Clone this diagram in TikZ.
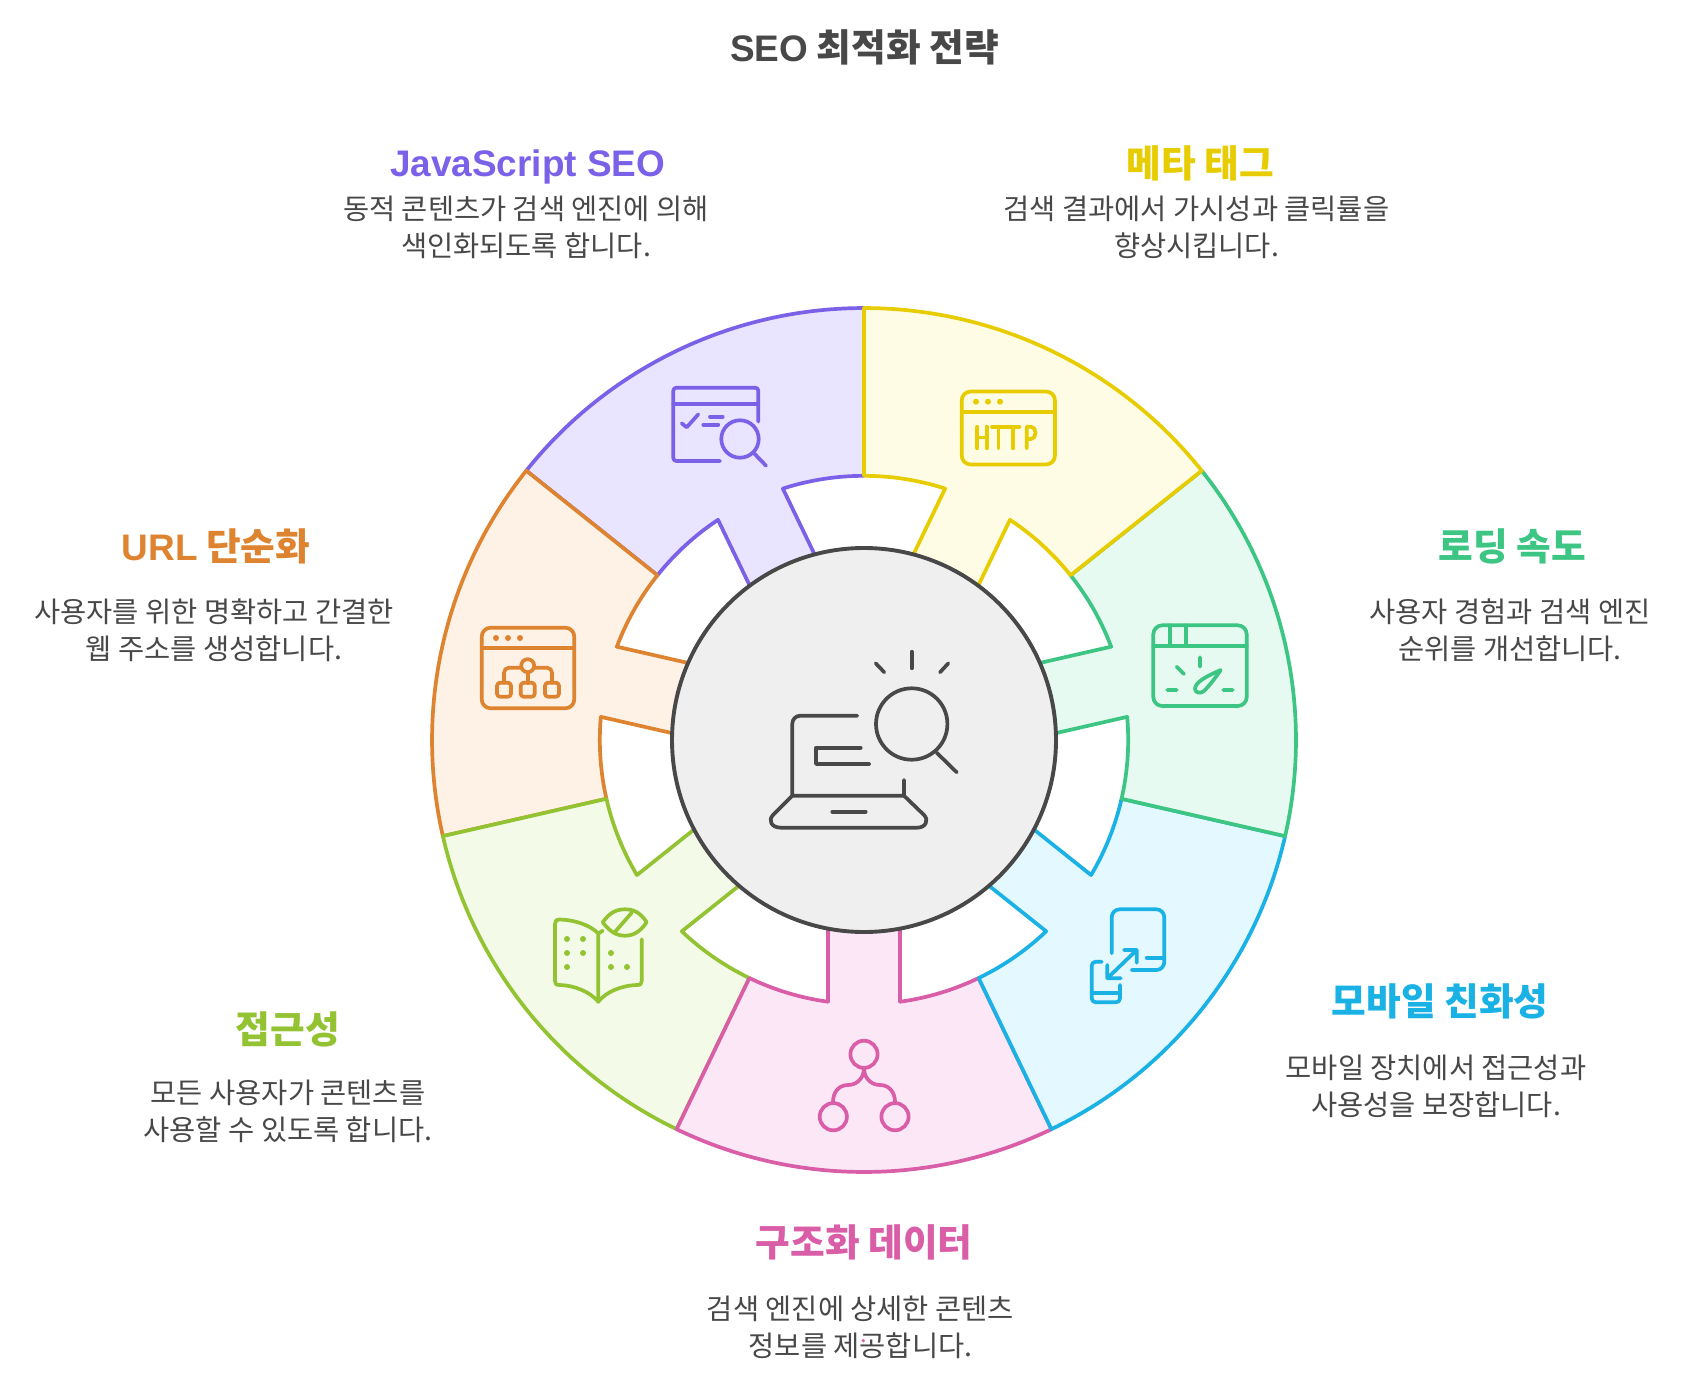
\documentclass[tikz,border=0pt]{standalone}
\usepackage{fontspec}
\setmainfont{Noto Sans CJK KR}
\newfontfamily\latinbold{Liberation Sans}[Scale=0.98]
\definecolor{cink}{HTML}{484848}
\definecolor{chub}{HTML}{EFEFEF}
\definecolor{cpur}{HTML}{7B61E8}\definecolor{fpur}{HTML}{E9E4FF}
\definecolor{cyel}{HTML}{E6CC00}\definecolor{fyel}{HTML}{FFFCE5}
\definecolor{ctea}{HTML}{3CC583}\definecolor{ftea}{HTML}{E7FAF1}
\definecolor{cblu}{HTML}{1AB1E4}\definecolor{fblu}{HTML}{E4F8FF}
\definecolor{cpin}{HTML}{D95DA7}\definecolor{fpin}{HTML}{FCE7F6}
\definecolor{clim}{HTML}{93C332}\definecolor{flim}{HTML}{F3FBE8}
\definecolor{cora}{HTML}{DE8431}\definecolor{fora}{HTML}{FEF1E6}
\newcommand{\wedgeseg}[3]{%
  \begin{scope}[shift={(864,740)},x=1pt,y=1pt,rotate=#3]
    \draw[line width=3.7pt,line join=round,draw=#1,fill=#2]
      (-25.714:432) arc[start angle=-25.714,end angle=25.714,radius=432]
      -- (25.714:264.2) arc[start angle=25.714,end angle=7.83,radius=264.2]
      -- (100,36) -- (100,-36) -- (-7.83:264.2)
      arc[start angle=-7.83,end angle=-25.714,radius=264.2] -- cycle;
  \end{scope}}
\newcommand{\lat}[1]{{\latinbold\bfseries #1}}
\tikzset{
  icon/.style={line width=3.7pt,line cap=round,line join=round,draw=#1},
  headtxt/.style={font=\fontsize{37.7}{44}\bfseries\selectfont,text=#1,inner sep=0pt},
  bodytxt/.style={font=\fontsize{28.45}{37}\selectfont,text=cink,align=center,inner sep=0pt},
}
\begin{document}
\begin{tikzpicture}[x=1pt,y=-1pt]
\useasboundingbox (0,0) rectangle (1692,1388);
\wedgeseg{cpur}{fpur}{115.714}
\wedgeseg{cora}{fora}{167.143}
\wedgeseg{clim}{flim}{218.571}
\wedgeseg{cpin}{fpin}{270}
\wedgeseg{cblu}{fblu}{321.429}
\wedgeseg{ctea}{ftea}{12.857}
\wedgeseg{cyel}{fyel}{64.286}
\node[circle,draw=cink,fill=chub,line width=3.9pt,minimum size=384pt,inner sep=0pt] (hub) at (864,740) {};

% central icon
\draw[icon=cink] (857.3,715.7) -- (800.3,715.7) arc[start angle=-90,end angle=-180,x radius=8,y radius=8] -- (792.3,795.7) -- (904,795.7) -- (904,780);
\draw[icon=cink] (792.3,795.7) -- (773,815) .. controls (768,820) and (771,827.7) .. (781,827.7) -- (917,827.7) .. controls (926,827.7) and (929,820) .. (924,815) -- (904,795.7);
\draw[icon=cink] (832.3,811.7) -- (865.7,811.7);
\draw[icon=cink] (860.7,747.7) -- (816,747.7) -- (816,764) -- (869,764);
\draw[icon=cink] (911.7,724) circle[radius=35.7];
\draw[icon=cink] (936.7,752.7) -- (956.7,772.3);
\draw[icon=cink] (911.7,651.7) -- (911.7,668.3);
\draw[icon=cink] (875.7,663.3) -- (884.3,672.3);
\draw[icon=cink] (948.3,663.3) -- (940,672.3);

% http icon
\draw[icon=cyel,rounded corners=9pt] (961.7,391.5) rectangle (1055,464.5);
\draw[icon=cyel] (961.7,411.7) -- (1055,411.7);
\foreach \xx in {976,988,1000}{\fill[cyel] (\xx,401.7) circle[radius=3];}
\draw[icon=cyel] (977.3,426.7) -- (977.3,448.3) (986.7,426.7) -- (986.7,448.3) (977.3,437.5) -- (986.7,437.5);
\draw[icon=cyel] (992,426.7) -- (1005,426.7) (998.5,426.7) -- (998.5,448.3);
\draw[icon=cyel] (1006.5,426.7) -- (1019.5,426.7) (1013,426.7) -- (1013,448.3);
\draw[icon=cyel] (1026.7,448.3) -- (1026.7,426.7) -- (1031,426.7) .. controls (1037,426.7) and (1037,439) .. (1031,439) -- (1026.7,439);

% purple icon
\draw[icon=cpur,rounded corners=3pt] (758.3,421.7) -- (758.3,387.7) -- (673.3,387.7) -- (673.3,461) -- (720,461);
\draw[icon=cpur] (673.3,404.3) -- (758.3,404.3);
\draw[icon=cpur] (681.7,423.3) -- (686.7,427.3) -- (698.3,414.3);
\draw[icon=cpur] (710,416.7) -- (722.7,416.7) (703.3,424.7) -- (718.3,424.7);
\draw[icon=cpur] (740,439) circle[radius=18.7];
\draw[icon=cpur] (754,453.3) -- (766,465.7);

% orange icon
\draw[icon=cora,rounded corners=9pt] (481.7,627.7) rectangle (574.3,708.3);
\draw[icon=cora] (481.7,647.7) -- (574.3,647.7);
\foreach \xx in {496,508,520}{\fill[cora] (\xx,638) circle[radius=3];}
\draw[icon=cora,rounded corners=5pt] (504,683) -- (504,667.7) -- (552,667.7) -- (552,683);
\draw[icon=cora] (527.7,672) -- (527.7,683);
\draw[icon=cora,fill=fora] (527.7,665.7) circle[radius=6.5];
\foreach \xx in {504,527.7,552}{\draw[icon=cora,rounded corners=3pt] (\xx-7,682.7) rectangle (\xx+7,696.7);}

% teal icon
\draw[icon=ctea,rounded corners=9pt] (1153.3,625.3) rectangle (1246.7,706);
\draw[icon=ctea] (1153.3,646) -- (1246.7,646) (1170,625.3) -- (1170,646) (1185.7,625.3) -- (1185.7,646);
\draw[icon=ctea] (1200,657.3) -- (1200,666.7) (1176.7,666.7) -- (1184,674) (1167.3,690) -- (1176.7,690) (1223.3,690) -- (1232.7,690);
\draw[icon=ctea] (1220.7,670) .. controls (1207,676) and (1195,682) .. (1195,689) .. controls (1195,693) and (1201,694) .. (1204,691) .. controls (1210,685) and (1216,677) .. (1220.7,670) -- cycle;

% blue icon
\draw[icon=cblu,rounded corners=8pt] (1111.7,953.3) -- (1111.7,909.3) -- (1164.3,909.3) -- (1164.3,970) -- (1131.7,970);
\draw[icon=cblu] (1146.7,957.7) -- (1164.3,957.7);
\draw[icon=cblu] (1136.7,950) -- (1107.3,978.3) (1124,950) -- (1136.7,950) -- (1136.7,962.7) (1107.3,965) -- (1107.3,978.3) -- (1120.7,978.3);
\draw[icon=cblu,rounded corners=4pt] (1101.7,961.7) -- (1091.7,961.7) -- (1091.7,1002.3) -- (1120,1002.3) -- (1120,985);
\draw[icon=cblu] (1091.7,993.3) -- (1120,993.3);

% pink icon
\draw[icon=cpin] (864,1054.3) circle[radius=13.6] (833.3,1116.7) circle[radius=13.6] (895,1116.7) circle[radius=13.6];
\draw[icon=cpin] (864,1068) .. controls (864,1078) and (857,1085) .. (848,1085) .. controls (839,1085) and (833,1092) .. (833,1102);
\draw[icon=cpin] (864,1068) .. controls (864,1078) and (871,1085) .. (880,1085) .. controls (889,1085) and (895,1092) .. (895,1102);

% lime icon
\draw[icon=clim] (598.3,933.5) .. controls (590,925) and (575,920) .. (560,919.5) .. controls (556,919.5) and (555,921) .. (555,924) -- (555,981) .. controls (555,984) and (556,985) .. (560,985) .. controls (575,985.5) and (590,992) .. (598.3,1001.7) .. controls (606,992) and (621,985.5) .. (637,985) .. controls (640.5,985) and (641.7,984) .. (641.7,981) -- (641.7,939.3);
\draw[icon=clim] (598.3,933.5) -- (598.3,1001.7) (598.3,933.5) -- (602.7,930.7);
\foreach \xx/\yy in {567/939,583/939,567/953,583/953,611/953,567/967,611/967,627/967}{\fill[clim] (\xx,\yy) circle[radius=3];}
\draw[icon=clim] (602.7,922.3) .. controls (610,912) and (617,909.3) .. (625,909.3) .. controls (633,909.3) and (640,912) .. (646.7,922.3) .. controls (640,932) and (633,935.7) .. (625,935.7) .. controls (617,935.7) and (610,932) .. (602.7,922.3) -- cycle;
\draw[icon=clim] (614.3,932.7) -- (631.7,912.7);

% texts
\node[font=\fontsize{37.7}{44}\bfseries\selectfont,text=cink,inner sep=0pt] (title) at (864.5,47.5) {\lat{SEO} 최적화 전략};
\node[headtxt=cpur] (h1) at (527.6,166.5) {\lat{JavaScript SEO}};
\node[bodytxt] (b1) at (526,227) {동적 콘텐츠가 검색 엔진에 의해\\색인화되도록 합니다.};
\node[headtxt=cyel] (h2) at (1200,163) {메타 태그};
\node[bodytxt] (b2) at (1196.5,227) {검색 결과에서 가시성과 클릭률을\\향상시킵니다.};
\node[headtxt=ctea] (h3) at (1512.5,546) {로딩 속도};
\node[bodytxt] (b3) at (1510,630) {사용자 경험과 검색 엔진\\순위를 개선합니다.};
\node[headtxt=cblu] (h4) at (1440,1001) {모바일 친화성};
\node[bodytxt] (b4) at (1436,1086.5) {모바일 장치에서 접근성과\\사용성을 보장합니다.};
\node[headtxt=cpin] (h5) at (864,1242) {구조화 데이터};
\node[bodytxt] (b5) at (860.5,1327) {검색 엔진에 상세한 콘텐츠\\정보를 제공합니다.};
\node[headtxt=clim] (h6) at (288,1029.5) {접근성};
\node[bodytxt] (b6) at (288,1111) {모든 사용자가 콘텐츠를\\사용할 수 있도록 합니다.};
\node[headtxt=cora] (h7) at (216,546) {\lat{URL} 단순화};
\node[bodytxt] (b7) at (214,630) {사용자를 위한 명확하고 간결한\\웹 주소를 생성합니다.};
\fill[cpin] (863.3,1340.7) circle[radius=1.8];
\end{tikzpicture}
\end{document}
